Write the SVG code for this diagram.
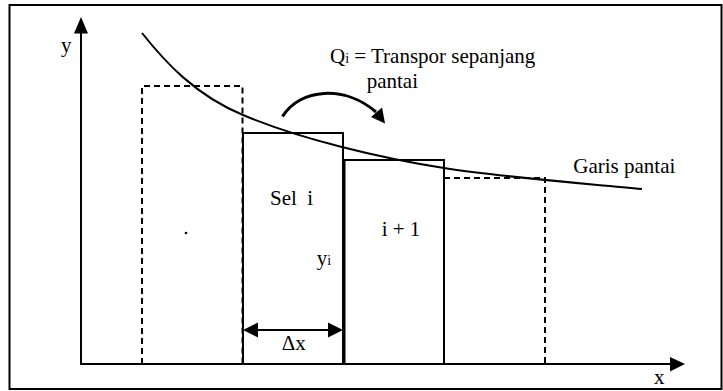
<svg xmlns="http://www.w3.org/2000/svg" width="723" height="391" viewBox="0 0 723 391">
<defs>
<style>
.t{font-family:"Liberation Serif","Times New Roman",serif;font-size:21px;fill:#000}
.sub{font-size:14px}
.solid{fill:none;stroke:#000;stroke-width:2}
.dash{fill:none;stroke:#000;stroke-width:2;stroke-dasharray:6 4}
.line{fill:none;stroke:#000;stroke-width:2}
</style>
</defs>
<rect width="723" height="391" fill="#fff"/>
<rect x="9.5" y="5" width="712" height="384" fill="none" stroke="#000" stroke-width="2"/>
<g id="cell-left">
<path class="dash" d="M142,364 V86 H242.5 V364"/>
<circle cx="186" cy="233" r="1.3" fill="#000"/>
</g>
<g id="cell-i">
<rect class="solid" x="243" y="133" width="100" height="231"/>
<text class="t" x="270" y="205" xml:space="preserve">Sel  i</text>
<text class="t" x="316.7" y="265">y<tspan class="sub">i</tspan></text>
</g>
<g id="cell-i1">
<rect class="solid" x="344.5" y="160" width="99.5" height="204"/>
<text class="t" x="381.7" y="235.7">i + 1</text>
</g>
<g id="cell-right">
<path class="dash" d="M444,178 H545 V364"/>
</g>
<g id="shoreline">
<path class="line" d="M142,33 C165,62 195,95 243,115 C300,139 380,158 444,168 C500,177 580,183 642,189"/>
<text class="t" x="573.3" y="173.3">Garis pantai</text>
</g>
<g id="transport-label">
<text class="t" x="330" y="63">Q<tspan class="sub">i</tspan> = Transpor sepanjang</text>
<text class="t" x="366.7" y="87.7">pantai</text>
</g>
<g id="connectors">
<line class="line" x1="81" y1="364" x2="81" y2="32"/>
<polygon points="81,17 74,33.5 88,33.5" fill="#000"/>
<line class="line" x1="80" y1="364" x2="671" y2="364"/>
<polygon points="685,364 670,357 670,371.5" fill="#000"/>
<path d="M282.5,116.5 C300,88 345,85 376,112" fill="none" stroke="#000" stroke-width="3"/>
<polygon points="385,123.5 371,117 382,107.5" fill="#000"/>
<line class="line" x1="256" y1="330" x2="330" y2="330" stroke-width="3"/>
<polygon points="243,330 258,322.5 258,337.5" fill="#000"/>
<polygon points="343,330 328,322.5 328,337.5" fill="#000"/>
</g>
<g id="axis-labels">
<text class="t" x="61" y="52">y</text>
<text class="t" x="654" y="384">x</text>
<text class="t" x="281.7" y="350">Δx</text>
</g>
</svg>
